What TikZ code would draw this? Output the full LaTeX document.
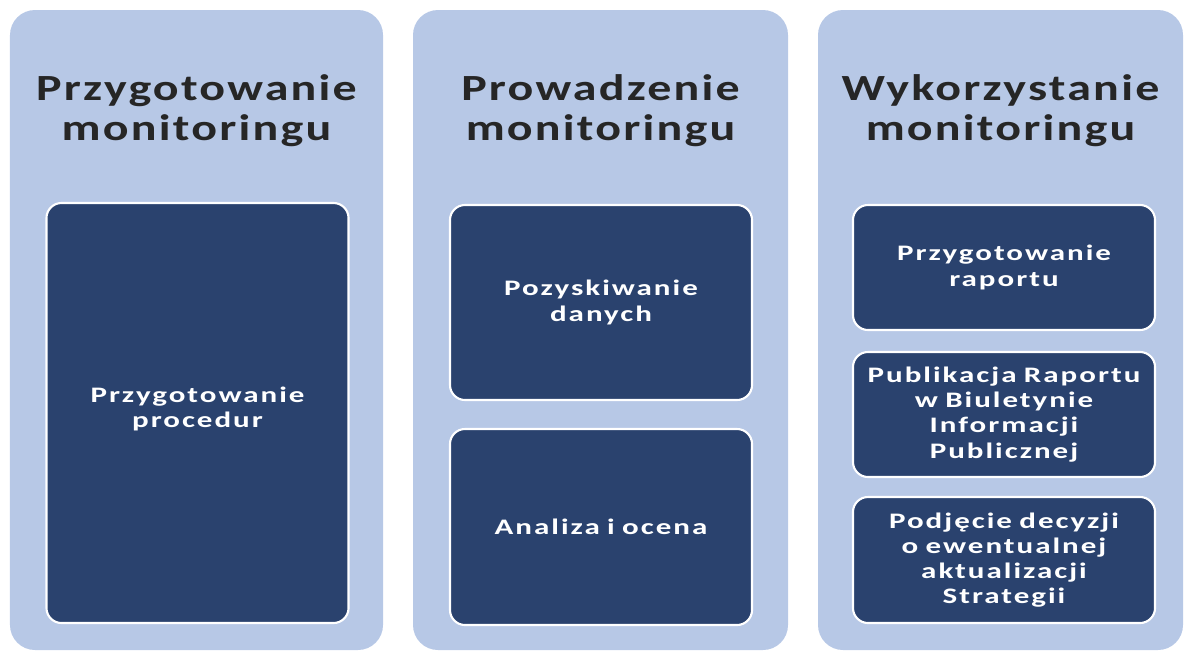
\documentclass[tikz,border=0pt]{standalone}
\usepackage{fontspec}
\setmainfont{Carlito}
\newfontfamily\headfont[FakeStretch=1.3, LetterSpace=6, WordSpace=1.3]{Carlito}
\newfontfamily\stagefont[FakeStretch=1.4, LetterSpace=9, WordSpace=1.3]{Carlito}
\usetikzlibrary{positioning}
\definecolor{colback}{RGB}{183,200,230}
\definecolor{boxnavy}{RGB}{42,66,110}
\definecolor{titlegray}{RGB}{38,38,38}
\tikzset{
    column/.style={rectangle, rounded corners=0.5cm, fill=colback, minimum height=12.8cm, inner sep=0pt},
    stage/.style={rectangle, rounded corners=0.3cm, fill=boxnavy, draw=white, line width=1.2pt, minimum width=6.04cm, inner sep=2pt, text=white, font=\stagefont\bfseries\fontsize{12.6}{14.3}\selectfont, align=center, text width=5.9cm},
    heading/.style={text=titlegray, font=\headfont\bfseries\fontsize{21}{22.7}\selectfont, align=center, text width=7.4cm}
}
\begin{document}
\begin{tikzpicture}
            \useasboundingbox (0,0) rectangle (23.68,-13.04);

            \node[column, minimum width=7.46cm] (C1) at (3.93,-6.6) {};
            \node[column, minimum width=7.5cm] (C2) at (12.01,-6.6) {};
            \node[column, minimum width=7.3cm] (C3) at (20.01,-6.6) {};

            \node[heading] (T1) at (3.93,-2.22) {Przygotowanie\\monitoringu};
            \node[heading] (T2) at (12.01,-2.22) {Prowadzenie\\monitoringu};
            \node[heading] (T3) at (20.01,-2.22) {Wykorzystanie\\monitoringu};

            \node[stage, minimum height=8.4cm] (P1) at (3.95,-8.26) {\raisebox{0.5cm}{\parbox{5.9cm}{\centering Przygotowanie\\procedur}}};

            \node[stage, minimum height=3.9cm] (R1) at (12.02,-6.05) {Pozyskiwanie\\danych};
            \node[stage, minimum height=3.92cm] (R2) at (12.02,-10.54) {Analiza i ocena};

            \node[stage, minimum height=2.5cm] (W1) at (20.08,-5.35) {Przygotowanie\\raportu};
            \node[stage, minimum height=2.5cm] (W2) at (20.08,-8.29) {Publikacja Raportu\\w Biuletynie\\Informacji\\Publicznej};
            \node[stage, minimum height=2.52cm] (W3) at (20.08,-11.2) {Podjęcie decyzji\\o ewentualnej\\aktualizacji\\Strategii};
        \end{tikzpicture}
\end{document}
